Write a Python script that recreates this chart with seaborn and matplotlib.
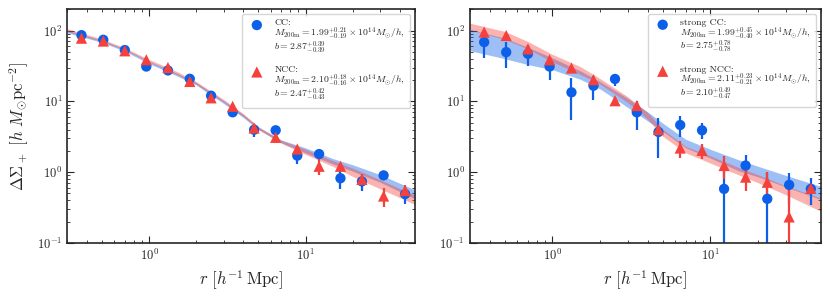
import numpy as np
import pandas as pd
import matplotlib
matplotlib.use("Agg")
import matplotlib.pyplot as plt
from matplotlib.collections import PathCollection
from matplotlib.legend_handler import HandlerPathCollection
import seaborn as sns

# radial bins (h^-1 Mpc)
r_bins = [0.37, 0.51, 0.70, 0.96, 1.32, 1.82, 2.49, 3.42, 4.69, 6.44, 8.85, 12.2, 16.7, 22.9, 31.5, 43.2]

# left panel: CC / NCC
cc_y = [86, 74, 53, 31, 27.3, 20.8, 12.0, 7.0, 3.97, 3.9, 1.71, 1.8, 0.82, 0.74, 0.90, 0.49]
cc_err = [4, 3.5, 2.5, 2, 1.6, 1.2, 0.8, 0.5, 0.8, 0.3, 0.4, 0.15, 0.25, 0.2, 0.08, 0.13]
ncc_y = [78, 71, 51.7, 38.6, 30, 19.1, 11.2, 8.5, 4.2, 3.1, 2.12, 1.21, 1.21, 0.79, 0.46, 0.55]
ncc_err = [4, 3.5, 2.5, 2, 1.6, 1.2, 0.8, 0.5, 0.3, 0.5, 0.2, 0.3, 0.15, 0.15, 0.14, 0.1]

# right panel: strong CC / strong NCC
scc_y = [68.6, 49.5, 46.9, 31, 13.4, 16.6, 20.7, 7.0, 3.69, 4.63, 3.9, 0.58, 1.24, 0.42, 0.66, 0.58]
scc_err = [28, 20, 15, 11, 8, 6, 4, 3, 2.1, 1.5, 1.0, 0.7, 0.5, 0.55, 0.3, 0.24]
sncc_y = [95, 85, 55, 38.6, 29.5, 20.2, 10.2, 8.7, 4.0, 2.19, 2.03, 1.24, 0.85, 0.72, 0.233, 0.59]
sncc_err = [5, 4, 3, 2.5, 2, 1.6, 1.5, 0.8, 0.5, 0.6, 0.5, 0.45, 0.3, 0.28, 0.35, 0.1]

# model bands read at these radii
band_r = [0.3, 0.5, 0.7, 1.0, 1.5, 2.0, 3.0, 4.0, 5.0, 7.0, 10, 15, 20, 30, 50]
cc_lo = [93, 68, 51, 34, 23, 17, 9.3, 5.9, 4.0, 2.6, 1.87, 1.3, 1.03, 0.72, 0.42]
cc_hi = [101, 73, 55, 37, 25, 18.5, 10.2, 6.5, 4.3, 2.85, 2.2, 1.55, 1.27, 0.92, 0.56]
ncc_lo = [97, 70, 53, 36, 24, 17.5, 9.7, 6.1, 4.0, 2.55, 1.78, 1.2, 0.87, 0.58, 0.35]
ncc_hi = [106, 76, 57, 39, 26.5, 19, 10.6, 6.7, 4.4, 2.8, 2.1, 1.45, 1.14, 0.78, 0.47]
scc_lo = [52, 40, 33, 28, 20.5, 15, 8.2, 5.3, 3.75, 2.2, 1.58, 1.05, 0.86, 0.62, 0.41]
scc_hi = [104, 78, 58, 41, 27, 19, 11, 7.1, 4.9, 2.9, 2.1, 1.5, 1.21, 0.9, 0.63]
sncc_lo = [102, 75, 55, 36, 24, 17.5, 9.6, 5.6, 3.2, 1.87, 1.34, 0.92, 0.71, 0.48, 0.28]
sncc_hi = [127, 97, 70, 46, 31, 21, 11.6, 7.0, 4.0, 2.3, 1.7, 1.17, 0.92, 0.64, 0.43]

labels_left = [
    "CC:\n" r"$M_{\rm 200m}=1.99^{+0.21}_{-0.19}\times10^{14}M_{\odot}/h$," "\n" r"$b=2.87^{+0.39}_{-0.39}$",
    "NCC:\n" r"$M_{\rm 200m}=2.10^{+0.18}_{-0.16}\times10^{14}M_{\odot}/h$," "\n" r"$b=2.47^{+0.42}_{-0.43}$",
]
labels_right = [
    "strong CC:\n" r"$M_{\rm 200m}=1.99^{+0.45}_{-0.40}\times10^{14}M_{\odot}/h$," "\n" r"$b=2.75^{+0.78}_{-0.78}$",
    "strong NCC:\n" r"$M_{\rm 200m}=2.11^{+0.23}_{-0.21}\times10^{14}M_{\odot}/h$," "\n" r"$b=2.10^{+0.49}_{-0.47}$",
]

blue = "#0b5fe8"
red = "#f5413b"

sns.set_style("ticks")
plt.rcParams["font.family"] = "serif"
plt.rcParams["font.serif"] = ["cmr10", "DejaVu Serif"]
plt.rcParams["mathtext.fontset"] = "cm"
plt.rcParams["axes.formatter.use_mathtext"] = True
plt.rcParams["axes.unicode_minus"] = False

fig = plt.figure(figsize=(8.3, 2.97), dpi=100)
ax1 = fig.add_axes([0.081, 0.182, 0.419, 0.787])
ax2 = fig.add_axes([0.566, 0.182, 0.423, 0.787])

# marker sits level with the first line of each legend label
top_handler = HandlerPathCollection(yoffsets=[2.3])


def draw(ax, y1, e1, y2, e2, lo1, hi1, lo2, hi2, labels):
    ax.fill_between(band_r, lo1, hi1, color=blue, alpha=0.4, lw=0)
    ax.fill_between(band_r, lo2, hi2, color=red, alpha=0.4, lw=0)
    d1 = pd.DataFrame({"r": r_bins, "y": y1})
    d2 = pd.DataFrame({"r": r_bins, "y": y2})
    ax.errorbar(r_bins, y1, yerr=e1, fmt="none", ecolor=blue, elinewidth=1.6, capsize=0)
    sns.scatterplot(data=d1, x="r", y="y", ax=ax, color=blue, marker="o", s=55,
                    edgecolor="none", label=labels[0], zorder=3)
    ax.errorbar(r_bins, y2, yerr=e2, fmt="none", ecolor=red, elinewidth=1.6, capsize=0)
    sns.scatterplot(data=d2, x="r", y="y", ax=ax, color=red, marker="^", s=65,
                    edgecolor="none", label=labels[1], zorder=4)
    ax.set_xscale("log")
    ax.set_yscale("log")
    ax.set_xlim(0.3, 50)
    ax.set_ylim(0.1, 200)
    ax.tick_params(which="both", direction="in", top=True, right=True, labelsize=9)
    ax.tick_params(which="major", length=5)
    ax.tick_params(which="minor", length=2.5)
    for s in ax.spines.values():
        s.set_linewidth(1.2)
    ax.set_xlabel(r"$r\ [h^{-1}\,{\rm Mpc}]$", fontsize=12)
    ax.set_ylabel("")
    leg = ax.legend(loc="upper right", fontsize=7, labelspacing=1.0, handletextpad=0.8,
                    borderpad=0.5, fancybox=True, framealpha=0.8, edgecolor="#cccccc",
                    handler_map={PathCollection: top_handler})
    for t in leg.get_texts():
        t.set_linespacing(0.85)


draw(ax1, cc_y, cc_err, ncc_y, ncc_err, cc_lo, cc_hi, ncc_lo, ncc_hi, labels_left)
draw(ax2, scc_y, scc_err, sncc_y, sncc_err, scc_lo, scc_hi, sncc_lo, sncc_hi, labels_right)
ax1.set_ylabel(r"$\Delta\Sigma_+\ [h\ M_{\odot}{\rm pc}^{-2}]$", fontsize=12)

plt.savefig("out.png", dpi=100)
